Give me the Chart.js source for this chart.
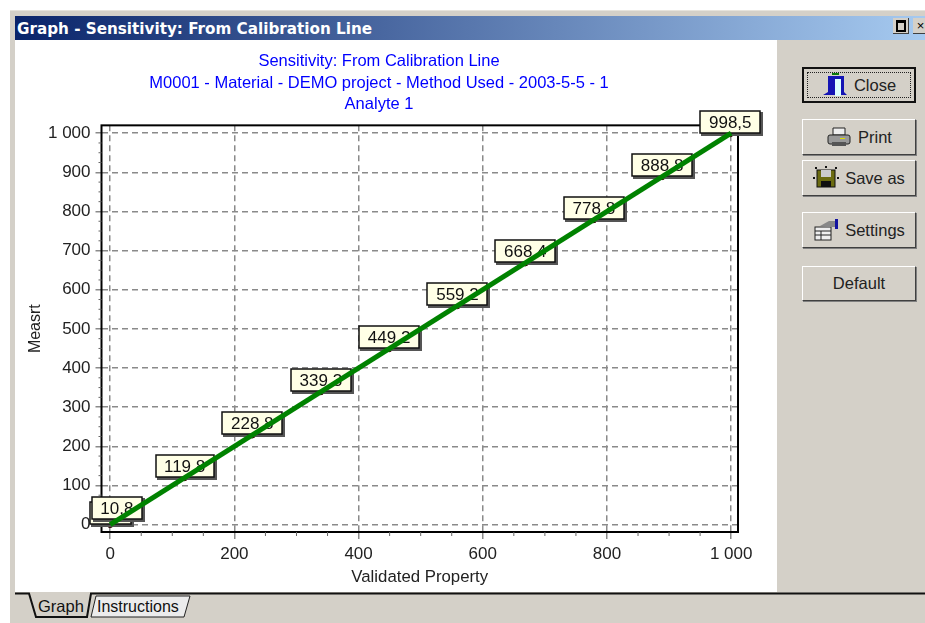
<!DOCTYPE html>
<html>
<head>
<meta charset="utf-8">
<title>Graph - Sensitivity: From Calibration Line</title>
<script src="https://cdn.jsdelivr.net/npm/chart.js@4/dist/chart.umd.min.js"></script>
<style>
  html, body { margin: 0; padding: 0; background: #fff; }
  body { width: 925px; height: 623px; position: relative; overflow: hidden; font-family: "Liberation Sans", Arial, sans-serif; }
  .frame { position: absolute; left: 10px; top: 10px; width: 915px; height: 613px; background: #d4d0c8; border-top: 1px solid #e6e3dc; }
  .titlebar { position: absolute; left: 15px; top: 16px; width: 910px; height: 24px; background: linear-gradient(to right, #0a246a, #a6caf0); color: #fff; font: bold 15.2px "DejaVu Sans", sans-serif; line-height: 26px; text-indent: 2px; white-space: nowrap; }
  .winbtn { position: absolute; top: 18px; width: 15px; height: 15px; background: #d4d0c8; border-right: 1px solid #404040; border-bottom: 1px solid #404040; font: 13px "Liberation Sans", sans-serif; text-align: center; line-height: 15px; color: #000; }
  .winbtn i { position: absolute; left: 3px; top: 2px; width: 6px; height: 7px; border: 2px solid #000; border-top-width: 3px; }
  .client { position: absolute; left: 15px; top: 40px; width: 762px; height: 552px; background: #fff; }
  #chart { position: absolute; left: 15px; top: 40px; }
  .btn { position: absolute; left: 802px; width: 114px; background: #d4d0c8; box-sizing: border-box; border: 1px solid; border-color: #fff #404040 #404040 #fff; box-shadow: 1px 1px 0 #808080; font-size: 16.5px; color: #222; display: flex; align-items: center; justify-content: center; gap: 6px; }
  .btn.default { border: 2px solid #111; box-shadow: none; }
  .btn.default::after { content: ""; position: absolute; inset: 3px; border: 1px dotted #222; }
  .btn svg { flex: none; }
  .tabs { position: absolute; left: 15px; top: 592px; }
</style>
</head>
<body>
<div class="frame"></div>
<div class="titlebar">Graph - Sensitivity: From Calibration Line</div>
<div class="winbtn" style="left:893px"><i></i></div>
<div class="winbtn" style="left:913px">×</div>
<div class="client"></div>
<canvas id="chart" width="762" height="552"></canvas>

<div class="btn default" style="top:67px;height:36px">
  <svg width="26" height="24" viewBox="0 0 26 24"><rect x="10" y="0" width="7" height="2" fill="#0a7a0a"/><path d="M1 22l5-3V3h16v16l3 3z" fill="#1414b4"/><rect x="13" y="6" width="6" height="17" fill="#dff"/></svg>Close</div>
<div class="btn" style="top:119px;height:36px">
  <svg width="26" height="24" viewBox="0 0 26 24"><path d="M7 3h12v7H7z" fill="#eee" stroke="#222"/><rect x="2" y="10" width="22" height="9" rx="2" fill="#999" stroke="#222"/><rect x="6" y="17" width="14" height="4" fill="#555"/><rect x="14" y="13" width="5" height="1" fill="#dd0"/></svg>Print</div>
<div class="btn" style="top:160px;height:36px">
  <svg width="26" height="24" viewBox="0 0 26 24"><rect x="4" y="4" width="18" height="17" fill="#6b6b10" stroke="#111"/><rect x="8" y="4" width="10" height="7" fill="#ccc"/><rect x="8" y="15" width="10" height="6" fill="#111"/><g fill="#111"><rect x="0" y="11" width="2" height="2"/><rect x="24" y="11" width="2" height="2"/><rect x="12" y="0" width="2" height="2"/><rect x="2" y="1" width="2" height="2"/><rect x="22" y="1" width="2" height="2"/></g></svg>Save as</div>
<div class="btn" style="top:212px;height:36px">
  <svg width="26" height="22" viewBox="0 0 26 22"><rect x="2" y="8" width="16" height="13" fill="#eee" stroke="#222"/><path d="M2 12h16M2 16h16M8 12v9" stroke="#222"/><path d="M7 7l9-5h6v6H14z" fill="#888"/><rect x="22" y="0" width="3" height="10" fill="#1414a0"/></svg>Settings</div>
<div class="btn" style="top:266px;height:35px">Default</div>

<svg class="tabs" width="910" height="31" viewBox="0 0 910 31">
  <path d="M76 25L81 4H175L169 25Z" fill="#ececec" stroke="#222"/>
  <path d="M0 1.5H14L21 25H72L76 1.5H910" fill="#d4d0c8" stroke="#111" stroke-width="2"/>
  <text x="23" y="20" font-family="Liberation Sans" font-size="16.5" fill="#111">Graph</text>
  <text x="82" y="20" font-family="Liberation Sans" font-size="16" fill="#111">Instructions</text>
</svg>

<script>
const CHART_LEFT = 15;

const titleLines = [
  'Sensitivity: From Calibration Line',
  'M0001 - Material - DEMO project - Method Used - 2003-5-5 - 1',
  'Analyte 1'
];
const xTitle = 'Validated Property';
const yTitle = 'Measrt';

const validated = [0, 10.8, 119.8, 228.8, 339.3, 449.2, 559.2, 668.4, 778.8, 888.8, 998.5];
const measured = [0, 10.8, 119.8, 228.8, 339.3, 449.2, 559.2, 668.4, 778.8, 888.8, 998.5];
const labels = ['0,0', '10,8', '119,8', '228,8', '339,3', '449,2', '559,2', '668,4', '778,8', '888,8', '998,5'];
const lineX = [0, 1000];
const lineY = [0, 1000];

const FONT = '"Liberation Sans", Arial, sans-serif';
const fmt = v => String(v).replace(/\B(?=(\d{3})+$)/g, ' ');
const isMajorY = v => v % 100 === 0;
const isMajorX = v => v % 200 === 0;

// boxes sit on top of the markers but under the green line
const pointLabels = {
  id: 'pointLabels',
  afterDatasetDraw(chart, args) {
    if (args.index !== 1) return;
    const ctx = chart.ctx;
    ctx.save();
    ctx.font = '17px ' + FONT;
    ctx.textAlign = 'center';
    ctx.textBaseline = 'middle';
    args.meta.data.forEach((pt, i) => {
      const w = Math.round(ctx.measureText(labels[i]).width + 17);
      const h = 22;
      const bx = Math.round(pt.x - w / 2);
      const by = Math.round(pt.y - h - 1);
      ctx.fillStyle = '#555';
      ctx.fillRect(bx + 1, by + 1, w + 2, h + 2);
      ctx.fillStyle = '#ffffe6';
      ctx.fillRect(bx, by, w, h);
      ctx.strokeStyle = '#111';
      ctx.lineWidth = 1.5;
      ctx.strokeRect(bx, by, w, h);
      ctx.fillStyle = '#111';
      ctx.fillText(labels[i], pt.x, by + h / 2 + 1);
    });
    ctx.restore();
  }
};

// closed black frame round the plot area, plus the short minor ticks
const plotFrame = {
  id: 'plotFrame',
  beforeDatasetsDraw(chart) {
    const { ctx, chartArea: a, scales } = chart;
    ctx.save();
    ctx.strokeStyle = '#000';
    ctx.lineWidth = 2;
    ctx.strokeRect(a.left, a.top, a.right - a.left, a.bottom - a.top);
    ctx.strokeStyle = '#666';
    ctx.lineWidth = 1;
    ctx.beginPath();
    scales.x.ticks.forEach(t => {
      if (isMajorX(t.value)) return;
      const px = scales.x.getPixelForValue(t.value);
      ctx.moveTo(px, a.bottom);
      ctx.lineTo(px, a.bottom + 4);
    });
    scales.y.ticks.forEach(t => {
      if (isMajorY(t.value)) return;
      const py = scales.y.getPixelForValue(t.value);
      ctx.moveTo(a.left, py);
      ctx.lineTo(a.left - 3, py);
    });
    ctx.stroke();
    ctx.restore();
  }
};

new Chart(document.getElementById('chart'), {
  type: 'scatter',
  data: {
    datasets: [
      {
        type: 'line',
        data: lineX.map((x, i) => ({ x, y: lineY[i] })),
        borderColor: '#008200',
        borderWidth: 5,
        pointRadius: 0,
        tension: 0
      },
      {
        data: validated.map((x, i) => ({ x, y: measured[i] })),
        showLine: false,
        pointRadius: 3,
        backgroundColor: '#d00000',
        borderColor: '#200000',
        borderWidth: 1
      }
    ]
  },
  options: {
    responsive: false,
    animation: false,
    layout: { padding: { top: 0, left: 5, right: 39, bottom: 0 } },
    plugins: {
      legend: { display: false },
      tooltip: { enabled: false },
      title: {
        display: true,
        text: titleLines,
        color: '#0000ff',
        font: { family: FONT, size: 16.5, weight: 'normal', lineHeight: 1.3 },
        padding: { top: 11, bottom: 10 }
      }
    },
    scales: {
      x: {
        type: 'linear',
        min: -14,
        max: 1011,
        border: { display: false, dash: [6, 4] },
        grid: {
          color: c => isMajorX(c.tick.value) ? '#8a8a8a' : 'rgba(0,0,0,0)',
          tickColor: c => isMajorX(c.tick.value) ? '#8a8a8a' : 'rgba(0,0,0,0)',
          tickLength: 7,
          lineWidth: 1.5
        },
        ticks: {
          stepSize: 50,
          includeBounds: false,
          autoSkip: false,
          maxRotation: 0,
          color: '#222',
          font: { family: FONT, size: 17 },
          padding: 5,
          callback: v => isMajorX(v) ? fmt(v) : ''
        },
        title: { display: true, text: xTitle, color: '#222', font: { family: FONT, size: 16.8 }, padding: { top: 0, bottom: 5 } },
        afterFit(scale) { scale.height = 60; }
      },
      y: {
        type: 'linear',
        min: -19,
        max: 1020,
        border: { display: false, dash: [6, 4] },
        grid: {
          color: c => isMajorY(c.tick.value) ? '#8a8a8a' : 'rgba(0,0,0,0)',
          tickColor: c => isMajorY(c.tick.value) ? '#8a8a8a' : 'rgba(0,0,0,0)',
          tickLength: 6,
          lineWidth: 1.5
        },
        ticks: {
          stepSize: 25,
          includeBounds: false,
          autoSkip: false,
          color: '#222',
          font: { family: FONT, size: 17 },
          padding: 5,
          callback: v => isMajorY(v) ? fmt(v) : ''
        },
        title: { display: true, text: yTitle, color: '#222', font: { family: FONT, size: 16 }, padding: { top: 6, bottom: 0 } },
        afterFit(scale) { scale.width = 101.5 - CHART_LEFT - 5; }
      }
    }
  },
  plugins: [plotFrame, pointLabels]
});
</script>
</body>
</html>
